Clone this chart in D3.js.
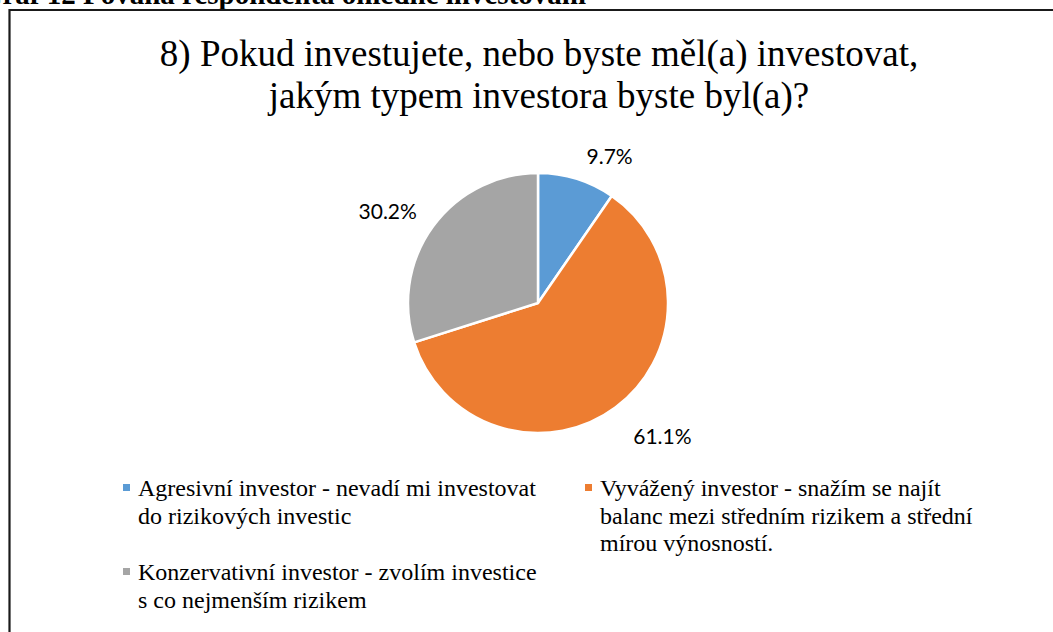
<!DOCTYPE html>
<html>
<head>
<meta charset="utf-8">
<script src="https://cdn.jsdelivr.net/npm/d3@7"></script>
<style>
  html, body { margin: 0; padding: 0; background: #fff; }
  svg { display: block; }
</style>
</head>
<body>
<svg id="chart" width="1053" height="632"></svg>
<script>
// ---- data ----
const categories = [
  "Agresivní investor - nevadí mi investovat do rizikových investic",
  "Vyvážený investor - snažím se najít balanc mezi středním rizikem a střední mírou výnosností.",
  "Konzervativní investor - zvolím investice s co nejmenším rizikem"
];
const values = [9.7, 61.1, 30.2];
const legendLines = [
  ["Agresivní investor - nevadí mi investovat", "do rizikových investic"],
  ["Vyvážený investor - snažím se najít", "balanc mezi středním rizikem a střední", "mírou výnosností."],
  ["Konzervativní investor - zvolím investice", "s co nejmenším rizikem"]
];
const titleLines = ["8) Pokud investujete, nebo byste měl(a) investovat,", "jakým typem investora byste byl(a)?"];
const captionText = "Graf 12 Povaha respondenta ohledně investování";

// ---- styling / layout ----
const colors = ["#5B9BD5", "#ED7D31", "#A5A5A5"];
const svg = d3.select("#chart");
const serif = "'Liberation Serif', Tinos, 'Times New Roman', 'DejaVu Serif', serif";

// caption, cut at the top edge as in the source
svg.append("text")
  .attr("x", 586).attr("y", 4)
  .attr("text-anchor", "end")
  .attr("font-family", serif).attr("font-weight", "bold").attr("font-size", 29)
  .attr("fill", "#000")
  .text(captionText);

// chart frame
svg.append("path")
  .attr("d", "M9.5,640 L9.5,10 L1060,10")
  .attr("fill", "none").attr("stroke", "#1a1a1a").attr("stroke-width", 2.2);

// title
svg.append("g").selectAll("text").data(titleLines).join("text")
  .attr("x", 539).attr("y", (d, i) => 66 + i * 42)
  .attr("text-anchor", "middle")
  .attr("font-family", serif).attr("font-size", 37).attr("fill", "#000")
  .text(d => d);

// pie
const cx = 538, cy = 303, R = 130;
const pie = d3.pie().sort(null).value(d => d);
const arcs = pie(values);
const arc = d3.arc().innerRadius(0).outerRadius(R);
const labelArc = d3.arc().innerRadius(160).outerRadius(160);

const g = svg.append("g").attr("transform", `translate(${cx},${cy})`);
g.selectAll("path").data(arcs).join("path")
  .attr("d", arc)
  .attr("fill", (d, i) => colors[i])
  .attr("stroke", "#fff").attr("stroke-width", 2.5).attr("stroke-linejoin", "round");

const labelDx = [1, 0, 8];
const labelDy = [6, 5, 3];
g.selectAll("text").data(arcs).join("text")
  .attr("x", (d, i) => labelArc.centroid(d)[0] + labelDx[i])
  .attr("y", (d, i) => labelArc.centroid(d)[1] + labelDy[i])
  .attr("dy", "0.35em")
  .attr("text-anchor", d => ((d.startAngle + d.endAngle) / 2 < Math.PI ? "start" : "end"))
  .attr("font-family", "Lato, 'Open Sans', sans-serif").attr("font-size", 21).attr("fill", "#000")
  .text(d => d3.format(".1f")(d.data) + "%");

// legend
const legendPos = [[123, 496], [585, 496], [123, 580]];
const lg = svg.append("g").selectAll("g").data(categories).join("g")
  .attr("transform", (d, i) => `translate(${legendPos[i][0]},${legendPos[i][1]})`);
lg.append("rect")
  .attr("x", 0).attr("y", -12).attr("width", 7).attr("height", 7)
  .attr("fill", (d, i) => colors[i]);
lg.each(function(d, i) {
  d3.select(this).selectAll("text").data(legendLines[i]).join("text")
    .attr("x", 15).attr("y", (t, j) => j * 27.5)
    .attr("font-family", serif).attr("font-size", 24).attr("fill", "#000")
    .text(t => t);
});
</script>
</body>
</html>
